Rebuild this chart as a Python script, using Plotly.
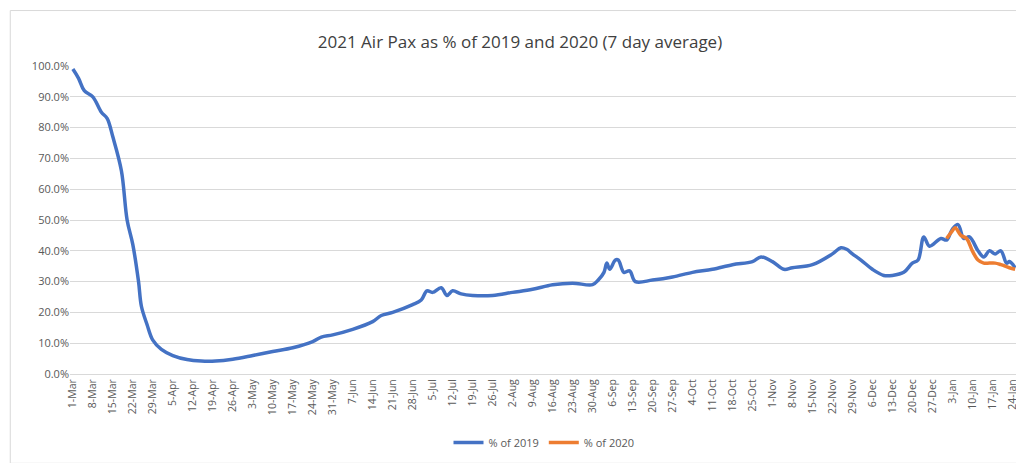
import plotly.graph_objects as go

# % of 2019
dates_2019 = ["2020-03-01", "2020-03-03", "2020-03-05", "2020-03-08", "2020-03-11", "2020-03-13",
              "2020-03-15", "2020-03-18", "2020-03-20", "2020-03-22", "2020-03-24", "2020-03-25",
              "2020-03-27", "2020-03-29", "2020-04-01", "2020-04-05", "2020-04-10", "2020-04-15",
              "2020-04-20", "2020-04-26", "2020-05-03", "2020-05-10", "2020-05-17", "2020-05-24",
              "2020-05-27", "2020-05-31", "2020-06-07", "2020-06-14", "2020-06-17", "2020-06-21",
              "2020-06-28", "2020-07-01", "2020-07-03", "2020-07-05", "2020-07-08", "2020-07-10",
              "2020-07-12", "2020-07-15", "2020-07-19", "2020-07-26", "2020-08-02", "2020-08-09",
              "2020-08-16", "2020-08-23", "2020-08-30", "2020-09-01", "2020-09-03", "2020-09-04",
              "2020-09-05", "2020-09-07", "2020-09-08", "2020-09-10", "2020-09-12", "2020-09-14",
              "2020-09-20", "2020-09-27", "2020-10-04", "2020-10-11", "2020-10-18", "2020-10-25",
              "2020-10-28", "2020-11-01", "2020-11-05", "2020-11-08", "2020-11-15", "2020-11-22",
              "2020-11-25", "2020-11-27", "2020-11-29", "2020-12-02", "2020-12-06", "2020-12-10",
              "2020-12-13", "2020-12-17", "2020-12-20", "2020-12-22", "2020-12-24", "2020-12-26",
              "2020-12-30", "2021-01-01", "2021-01-03", "2021-01-05", "2021-01-07", "2021-01-09",
              "2021-01-12", "2021-01-14", "2021-01-16", "2021-01-18", "2021-01-20", "2021-01-22",
              "2021-01-23", "2021-01-25"]
pct_2019 = [99, 96, 92, 90, 85, 83,
            77, 66, 50, 42, 30, 22,
            16, 11, 8, 6, 4.7, 4.2,
            4.2, 4.8, 6, 7.3, 8.5, 10.5,
            12, 12.7, 14.5, 17, 19, 20,
            22.5, 24, 27, 26.5, 28, 25.5,
            27, 26, 25.5, 25.5, 26.5, 27.5,
            29, 29.5, 29, 30.5, 33, 36,
            34, 37, 37, 33, 33.5, 30,
            30.5, 31.5, 33, 34, 35.5, 36.5,
            38, 36.5, 34, 34.5, 35.5, 39,
            41, 40.5, 39, 37, 34, 32,
            32, 33, 36, 37, 44.5, 41.5,
            44, 43.5, 47, 48.5, 44, 44.5,
            40, 38, 40, 39, 40, 36,
            36.5, 34.5]

# % of 2020
dates_2020 = ["2021-01-01", "2021-01-03", "2021-01-04", "2021-01-06", "2021-01-08", "2021-01-10",
              "2021-01-12", "2021-01-14", "2021-01-16", "2021-01-18", "2021-01-20", "2021-01-23",
              "2021-01-25"]
pct_2020 = [44, 46.5, 47.5, 45, 44, 40, 37, 36, 36, 36, 35.5, 34.5, 34]

fig = go.Figure()
fig.add_trace(go.Scatter(x=dates_2019, y=[v / 100 for v in pct_2019], name="% of 2019",
                         mode="lines", line=dict(color="#4472C4", width=3.5, shape="spline")))
fig.add_trace(go.Scatter(x=dates_2020, y=[v / 100 for v in pct_2020], name="% of 2020",
                         mode="lines", line=dict(color="#ED7D31", width=3.5, shape="spline")))

fig.update_layout(
    width=1024, height=463,
    paper_bgcolor="white", plot_bgcolor="white",
    font=dict(family="Open Sans", color="#595959", size=11),
    title=dict(text="2021 Air Pax as % of 2019 and 2020 (7 day average)", x=0.5, y=0.94,
               font=dict(size=17, color="#404040")),
    margin=dict(l=62, r=14, t=58, b=97, autoexpand=False),
    legend=dict(orientation="h", x=0.5, xanchor="center", yref="container", y=0.03,
                yanchor="bottom", font=dict(size=11)),
    showlegend=True,
)
fig.update_xaxes(type="date", range=["2020-02-29", "2021-01-26"], tick0="2020-03-01",
                 dtick=7 * 86400000, tickformat="%-d-%b", tickangle=-90,
                 showgrid=False, showline=True, linecolor="#d9d9d9", ticks="", tickfont=dict(size=10.5))
fig.update_yaxes(range=[0, 1.0], dtick=0.1, tickformat=".1%", gridcolor="#d9d9d9",
                 zeroline=False, tickfont=dict(size=11))
fig.add_shape(type="rect", xref="paper", yref="paper", x0=-0.063, x1=1.008, y0=-0.29, y1=1.18,
              line=dict(color="#d9d9d9", width=1))

fig.write_html("out.html")
